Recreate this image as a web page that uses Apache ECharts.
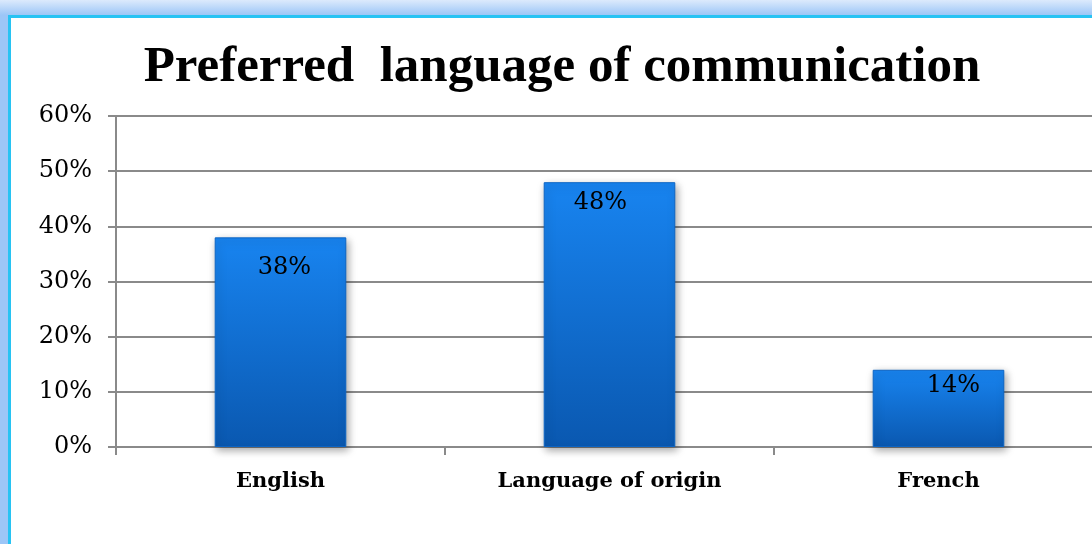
<!DOCTYPE html>
<html>
<head>
<meta charset="utf-8">
<script src="https://cdn.jsdelivr.net/npm/echarts@6/dist/echarts.min.js"></script>
<style>
  html, body { margin: 0; padding: 0; width: 1092px; height: 544px; overflow: hidden; }
  body { background: linear-gradient(to bottom, #dceafc 0px, #9cc6f7 15px); position: relative; }
  .frame {
    position: absolute; left: 8px; top: 15px; width: 1200px; height: 600px;
    background: #fff; border-left: 3px solid #27c3f3; border-top: 3px solid #27c3f3;
  }
  #chart { position: absolute; left: 0; top: 0; width: 1110px; height: 544px; }
</style>
</head>
<body>
<div class="frame"></div>
<div id="chart"></div>
<script>
var categories = ['English', 'Language of origin', 'French'];
var values = [38, 48, 14];
var yTicks = [0, 10, 20, 30, 40, 50, 60];

var serif = '"DejaVu Serif", "Liberation Serif", serif';
var titleFont = '"Liberation Serif", "DejaVu Serif", serif';
var chart = echarts.init(document.getElementById('chart'));

// nudges so the value labels sit where they do in the original
var labelShift = [[4, 10], [-9, 1], [15, -4]];

var option = {
  animation: false,
  title: {
    text: 'Preferred  language of communication',
    left: 557, top: 37, textAlign: 'center',
    textStyle: { fontFamily: titleFont, fontWeight: 'bold', fontSize: 51, color: '#000' }
  },
  grid: { left: 116, right: 7, top: 116, bottom: 97 },
  xAxis: {
    type: 'category',
    data: categories,
    axisLine: { lineStyle: { color: '#8a8a8a', width: 2 } },
    axisTick: { show: true, length: 8, lineStyle: { color: '#8a8a8a', width: 2 } },
    axisLabel: { fontFamily: serif, fontWeight: 'bold', fontSize: 21, color: '#000', margin: 24 }
  },
  yAxis: {
    type: 'value',
    min: yTicks[0], max: yTicks[yTicks.length - 1], interval: 10,
    axisLine: { show: true, lineStyle: { color: '#8a8a8a', width: 2 } },
    axisTick: { show: true, length: 8, lineStyle: { color: '#8a8a8a', width: 2 } },
    axisLabel: { fontFamily: serif, fontSize: 24, color: '#000', margin: 24, formatter: '{value}%' },
    splitLine: { lineStyle: { color: '#8a8a8a', width: 2 } }
  },
  series: [{
    type: 'bar',
    data: values.map(function (v, i) {
      return { value: v, label: { offset: labelShift[i] } };
    }),
    barWidth: '40%',
    itemStyle: {
      color: new echarts.graphic.LinearGradient(0, 0, 0, 1, [
        { offset: 0, color: '#1884f0' },
        { offset: 1, color: '#0a58b0' }
      ]),
      borderColor: '#0c64c4', borderWidth: 1,
      shadowColor: 'rgba(0,0,0,0.35)', shadowBlur: 8, shadowOffsetX: 2, shadowOffsetY: 3
    },
    label: {
      show: true, position: 'insideTop', distance: 8,
      formatter: '{c}%',
      fontFamily: serif, fontSize: 24, color: '#000'
    }
  }]
};

chart.setOption(option);
</script>
</body>
</html>
